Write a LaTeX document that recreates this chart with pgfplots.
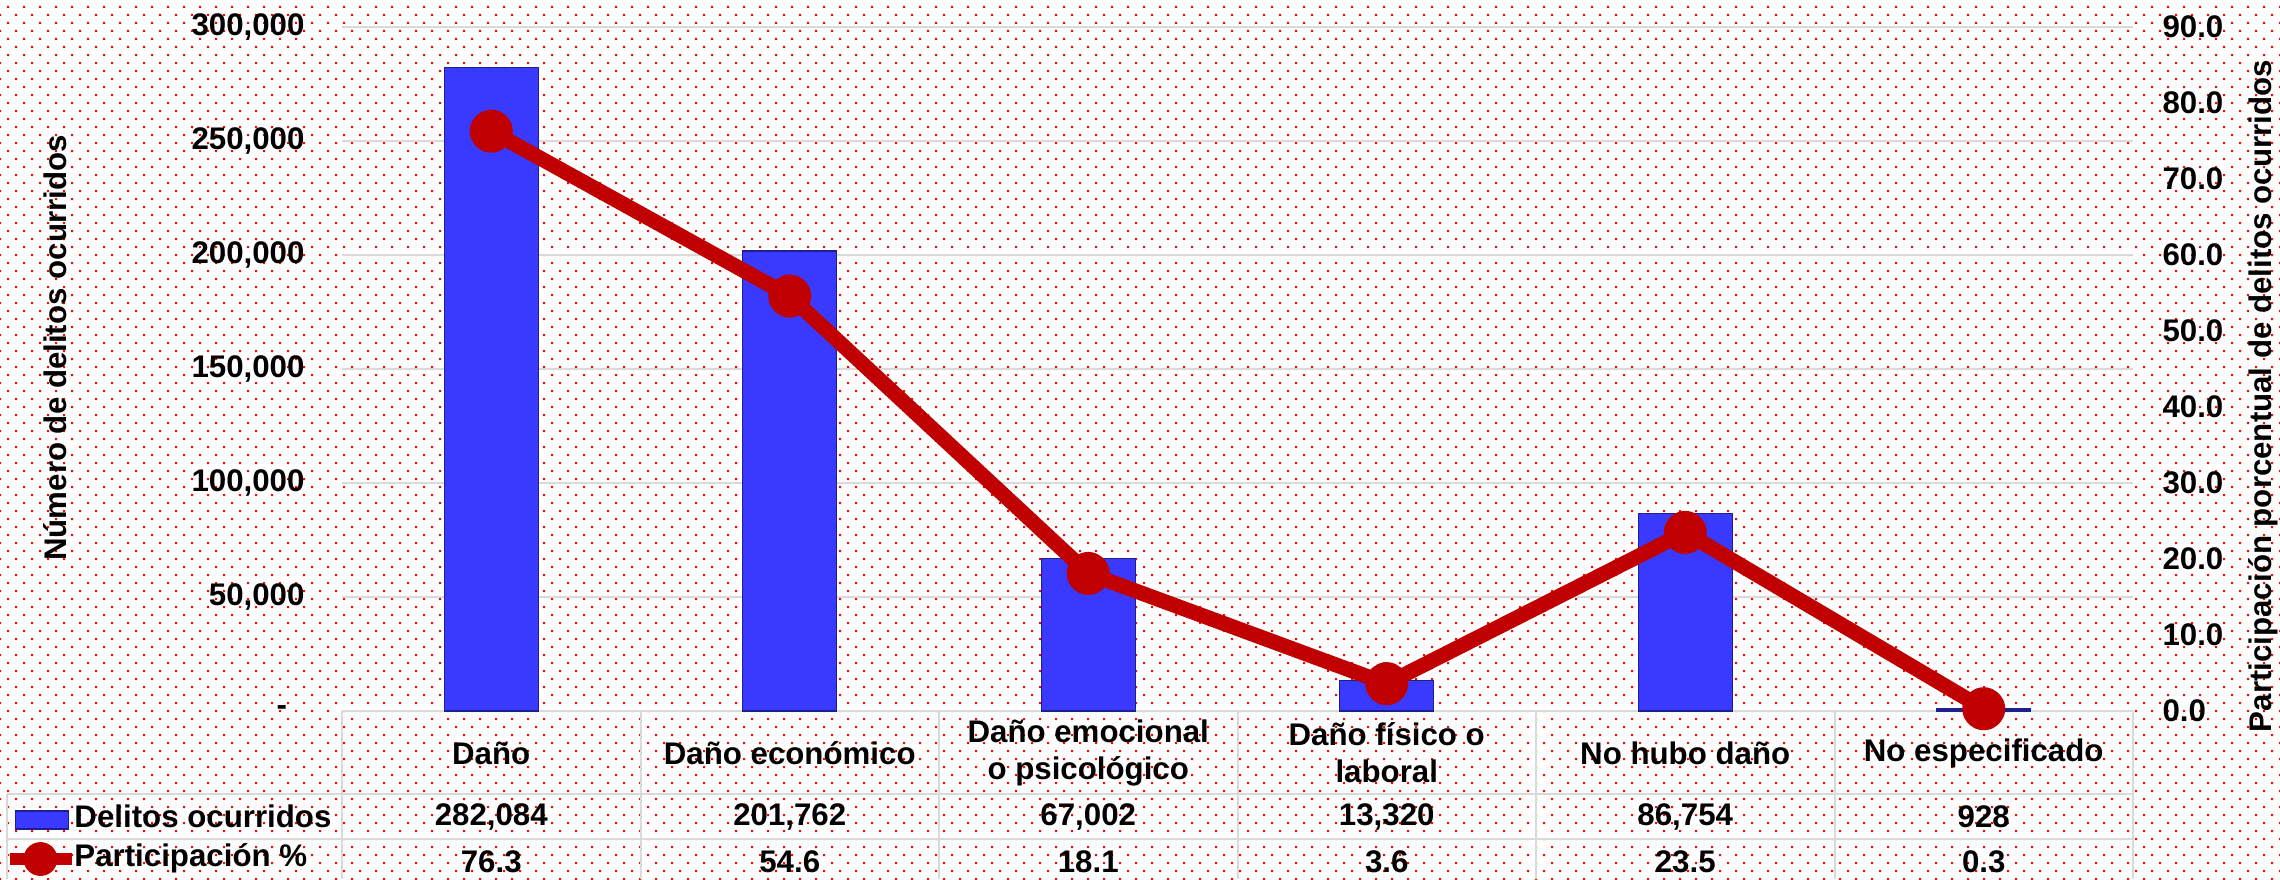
\documentclass[border=0pt]{standalone}
\usepackage{pgfplots}
\pgfplotsset{compat=1.18}
\usepackage{fontspec}
\setmainfont{Liberation Sans}
\usetikzlibrary{patterns}

\definecolor{barblue}{RGB}{58,58,255}
\definecolor{baredge}{RGB}{30,30,140}
\definecolor{lnred}{RGB}{192,0,0}
\definecolor{gridgray}{RGB}{217,217,217}
\definecolor{dotred}{RGB}{255,0,0}

% staggered red dots behind everything
\pgfdeclarepatternformonly{reddots}{\pgfqpoint{-0.5pt}{-0.5pt}}{\pgfqpoint{6.9pt}{6.9pt}}{\pgfqpoint{6.4pt}{6.4pt}}{%
  \pgfpathrectangle{\pgfqpoint{-0.4pt}{-0.4pt}}{\pgfqpoint{0.8pt}{0.8pt}}%
  \pgfpathrectangle{\pgfqpoint{2.8pt}{2.8pt}}{\pgfqpoint{0.8pt}{0.8pt}}%
  \pgfusepath{fill}}

% one column of the data table: category, count, share
\newcommand{\tlab}[3]{\vbox{%
  \hbox{\parbox[b][33.2pt][c]{119pt}{\centering #1}}\nointerlineskip
  \hbox{\parbox[b][18pt][c]{119pt}{\centering #2}}\nointerlineskip
  \hbox{\parbox[b][18pt][c]{119pt}{\centering #3}}}}

\begin{document}
\bfseries\fontsize{12.5}{14.8}\selectfont
\begin{tikzpicture}
  \fill[white] (-136.8pt,-67.2pt) rectangle (775.2pt,284.4pt);
  \fill[pattern=reddots, pattern color=dotred] (-136.8pt,-67.2pt) rectangle (775.2pt,284.4pt);

  \begin{axis}[
      at={(0pt,0pt)}, anchor=south west,
      width=716.4pt, height=273.6pt, scale only axis,
      xmin=-0.5, xmax=5.5, ymin=0, ymax=300000,
      axis line style={draw=none},
      major tick length=0pt,
      ybar, bar width=37.6pt,
      xtick={0,...,5},
      xticklabels={
        {\tlab{Daño}{282,084}{76.3}},
        {\tlab{Daño económico}{201,762}{54.6}},
        {\tlab{Daño emocional\\o psicológico}{67,002}{18.1}},
        {\tlab{Daño físico o\\laboral}{13,320}{3.6}},
        {\tlab{No hubo daño}{86,754}{23.5}},
        {\tlab{No especificado}{928}{0.3}}},
      xticklabel style={anchor=north, inner sep=0pt},
      ytick={0,50000,100000,150000,200000,250000,300000},
      yticklabels={{-\kern7pt},{50,000},{100,000},{150,000},{200,000},{250,000},{300,000}},
      scaled y ticks=false,
      ytick pos=left,
      yticklabel style={anchor=east, inner sep=0pt, xshift=-14.8pt},
      ymajorgrids,
      major grid style={draw=gridgray, line width=0.8pt},
      ylabel={Número de delitos ocurridos},
      ylabel style={at={(axis description cs:-0.1602,0.5307)}, anchor=center},
    ]
    \addplot[fill=barblue, draw=baredge, line width=0.5pt]
      coordinates {(0,282084) (1,201762) (2,67002) (3,13320) (4,86754) (5,928)};
  \end{axis}

  \begin{axis}[
      at={(0pt,0pt)}, anchor=south west,
      width=716.4pt, height=273.6pt, scale only axis,
      xmin=-0.5, xmax=5.5, ymin=0, ymax=90,
      axis x line=none,
      axis y line*=right,
      axis line style={draw=none},
      major tick length=0pt,
      clip=false,
      ytick={0,10,...,90},
      yticklabels={0.0,10.0,20.0,30.0,40.0,50.0,60.0,70.0,80.0,90.0},
      yticklabel style={anchor=west, inner sep=0pt, xshift=11.6pt},
      ylabel={Participación porcentual de delitos ocurridos},
      ylabel style={at={(axis description cs:1.0726,0.4605)}, anchor=center},
      legend cell align=left,
      legend style={at={(axis description cs:-0.1907,-0.1367)}, anchor=north west,
        draw=none, fill=none, inner sep=0pt, row sep=3.6pt, column sep=0pt,
        nodes={inner sep=0pt, text height=9pt, text depth=3pt}},
    ]
    \addlegendimage{legend image code/.code={%
        \fill[barblue, draw=baredge, line width=0.5pt] (2.8pt,-3.6pt) rectangle (24pt,3.6pt);
        \path (0pt,0pt) (23.4pt,0pt);}}
    \addplot[lnred, line width=6pt, line join=round, mark=*, mark size=5.6pt,
        mark options={draw=none, fill=lnred},
        legend image code/.code={%
          \draw[overlay, lnred, line width=5pt] (0.6pt,0pt) -- (25.6pt,0pt);
          \fill[overlay, lnred] (12.8pt,0pt) circle (3.8pt);
          \path (0pt,0pt) (23.4pt,0pt);}]
      coordinates {(0,76.3) (1,54.6) (2,18.1) (3,3.6) (4,23.5) (5,0.3)};
    \legend{Delitos ocurridos, Participación \%}
  \end{axis}

  % data table grid
  \begin{scope}[draw=gridgray, line width=0.8pt]
    \foreach \k in {0,...,6}
      \draw (\k*119.4pt,0pt) -- (\k*119.4pt,-67.2pt);
    \draw (-134pt,-33.2pt) -- (716.4pt,-33.2pt);
    \draw (-134pt,-51.2pt) -- (716.4pt,-51.2pt);
    \draw (-134pt,-33.2pt) -- (-134pt,-67.2pt);
  \end{scope}

  \pgfresetboundingbox
  \path[use as bounding box] (-136.8pt,-67.2pt) rectangle (775.2pt,284.4pt);
\end{tikzpicture}
\end{document}
